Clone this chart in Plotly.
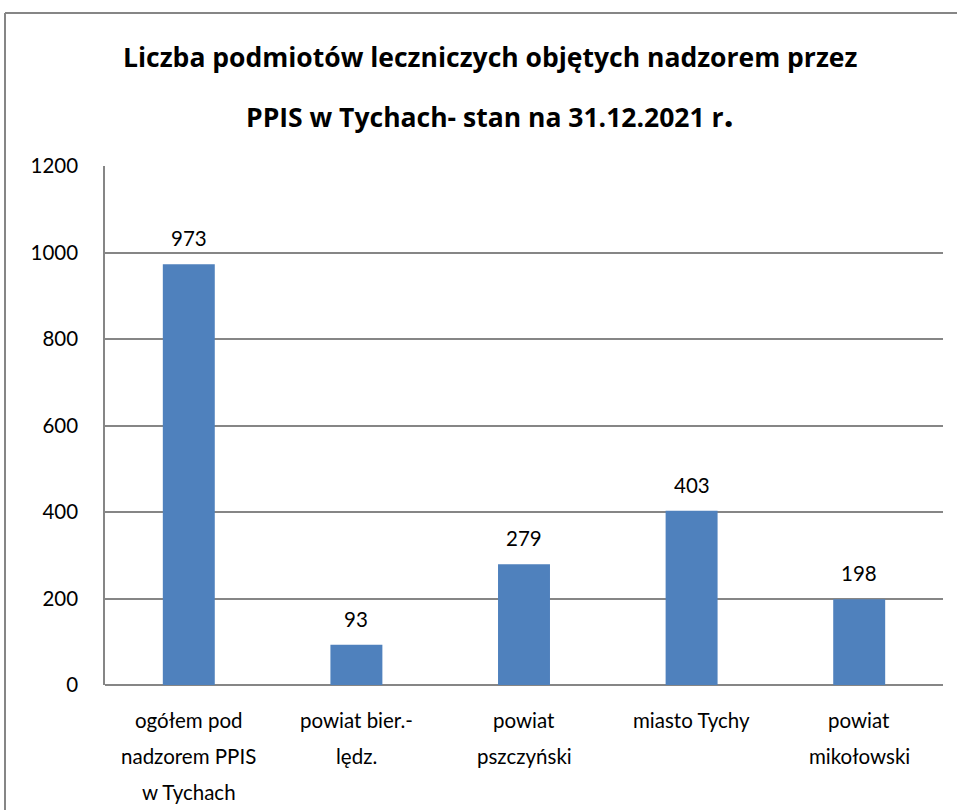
import plotly.graph_objects as go

categories = ["ogółem pod nadzorem PPIS w Tychach", "powiat bier.- lędz.", "powiat pszczyński",
              "miasto Tychy", "powiat mikołowski"]
category_lines = [["ogółem pod", "nadzorem PPIS", "w Tychach"],
                  ["powiat bier.-", "lędz."],
                  ["powiat", "pszczyński"],
                  ["miasto Tychy"],
                  ["powiat", "mikołowski"]]
values = [973, 93, 279, 403, 198]
y_ticks = [0, 200, 400, 600, 800, 1000, 1200]
title_lines = ["Liczba podmiotów leczniczych objętych nadzorem przez",
               "PPIS w Tychach- stan na 31.12.2021 r<span style='font-size:36px'>.</span>"]

FONT = "Lato"
TFONT = "Open Sans"
BAR = "#4F81BD"
GRID = "#868686"
FS = 20.5

fig = go.Figure()
fig.add_trace(go.Bar(x=categories, y=values, marker=dict(color=BAR, line=dict(width=0)),
                     width=0.31, hoverinfo="x+y"))

W, H = 957, 810
L, R, T, B = 105, 14, 166, 125
pw, ph = W - L - R, H - T - B

annotations = []
# data labels
for c, v in zip(categories, values):
    annotations.append(dict(x=c, y=v, xref="x", yref="y", text=str(v), showarrow=False,
                            yanchor="bottom", yshift=12, font=dict(family=FONT, size=FS, color="#000")))
# category labels
for c, lines in zip(categories, category_lines):
    for i, ln in enumerate(lines):
        annotations.append(dict(x=c, y=0, xref="x", yref="paper", text=ln, showarrow=False,
                                yanchor="middle", yshift=-35 - 36 * i,
                                font=dict(family=FONT, size=FS, color="#000")))
# title
for i, t in enumerate(title_lines):
    annotations.append(dict(x=(490 - L) / pw, y=(H - B - (57 + 57 * i)) / ph, xref="paper", yref="paper",
                            text="<b>" + t + "</b>", showarrow=False, xanchor="center", yanchor="middle",
                            font=dict(family=TFONT, size=26.5, color="#000")))

shapes = [
    dict(type="line", xref="paper", yref="paper", x0=(5 - L) / pw, x1=(W + 5 - L) / pw,
         y0=(H - B - 13) / ph, y1=(H - B - 13) / ph, line=dict(color=GRID, width=2)),
    dict(type="line", xref="paper", yref="paper", x0=(5 - L) / pw, x1=(5 - L) / pw,
         y0=(H - B - 13) / ph, y1=(H - B - H - 5) / ph, line=dict(color=GRID, width=2)),
]

fig.update_layout(
    width=W, height=H, margin=dict(l=L, r=R, t=T, b=B, autoexpand=False),
    paper_bgcolor="white", plot_bgcolor="white", showlegend=False,
    annotations=annotations, shapes=shapes,
    font=dict(family=FONT, size=FS, color="#000"),
)
fig.update_xaxes(showticklabels=False, showline=False, showgrid=False, ticks="")
fig.update_yaxes(range=[0, 1200], tickvals=y_ticks, showgrid=True, gridcolor=GRID, gridwidth=1.5,
                 showline=True, linecolor=GRID, linewidth=1.5, zeroline=True, zerolinecolor=GRID,
                 zerolinewidth=1.5, ticks="", ticklabelstandoff=21,
                 tickfont=dict(family=FONT, size=FS, color="#000"))

fig.write_html("out.html", config={"displayModeBar": False},
               post_script="document.body.style.margin='0';document.body.style.overflow='hidden';")
